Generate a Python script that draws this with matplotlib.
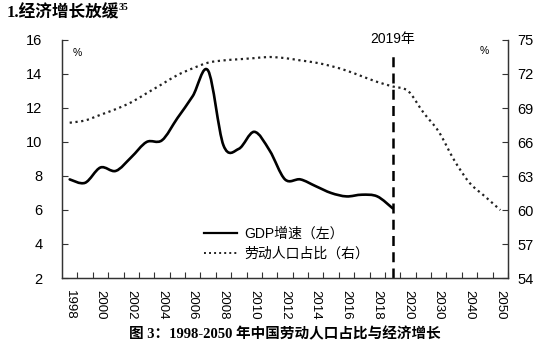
import matplotlib
matplotlib.use("Agg")
import matplotlib.pyplot as plt
import numpy as np
from matplotlib.path import Path
from matplotlib.patches import PathPatch
from matplotlib.lines import Line2D

plt.rcParams['font.family'] = ['Liberation Sans', 'Noto Sans CJK SC', 'DejaVu Sans']

# ---- data ----
years = [str(y) for y in range(1998, 2020)] + ['2020', '2025', '2030', '2035', '2040', '2045', '2050']
tick_labels = ['1998', '2000', '2002', '2004', '2006', '2008', '2010', '2012', '2014', '2016',
               '2018', '2020', '2030', '2040', '2050']
gdp_growth = [7.8, 7.6, 8.5, 8.3, 9.1, 10.0, 10.1, 11.4, 12.7, 14.2, 9.8, 9.6, 10.6, 9.5,
              7.8, 7.8, 7.4, 7.0, 6.8, 6.9, 6.8, 6.1]
labor_share = [67.7, 67.9, 68.4, 68.9, 69.5, 70.3, 71.1, 71.9, 72.5, 73.0, 73.2, 73.3, 73.4,
               73.5, 73.4, 73.2, 73.0, 72.7, 72.3, 71.8, 71.3, 70.9, 70.5, 68.6, 66.9, 64.4,
               62.4, 61.2, 60.0]
gdp_label = 'GDP增速（左）'
labor_label = '劳动人口占比（右）'
marker_year = '2019'

def smooth_path(xs, ys):
    pts = np.column_stack([xs, ys]).astype(float)
    n = len(pts)
    verts = [pts[0]]
    codes = [Path.MOVETO]
    for i in range(n - 1):
        p0 = pts[i - 1] if i > 0 else pts[i]
        p1 = pts[i]
        p2 = pts[i + 1]
        p3 = pts[i + 2] if i + 2 < n else pts[i + 1]
        c1 = p1 + (p2 - p0) / 6.0
        c2 = p2 - (p3 - p1) / 6.0
        verts += [c1, c2, p2]
        codes += [Path.CURVE4] * 3
    return Path(verts, codes)

fig = plt.figure(figsize=(5.5, 3.47), dpi=100)
ax = fig.add_axes([62 / 550, 1 - 278 / 347, 446 / 550, 238 / 347])
ax2 = ax.twinx()

x_idx = np.arange(len(years))
x_gdp = x_idx[:len(gdp_growth)]

p1 = PathPatch(smooth_path(x_gdp, gdp_growth), facecolor='none', edgecolor='black',
               lw=1.9, transform=ax.transData, capstyle='round', joinstyle='round')
ax.add_patch(p1)
ax.plot(x_gdp, gdp_growth, lw=0, alpha=0)

p2 = PathPatch(smooth_path(x_idx, labor_share), facecolor='none', edgecolor='#222222',
               lw=1.6, linestyle=(0, (1, 1.6)), transform=ax2.transData)
ax2.add_patch(p2)
ax2.plot(x_idx, labor_share, lw=0, alpha=0)

ax.set_xlim(-0.5, len(years) - 0.5)
ax.set_ylim(2, 16)
ax2.set_ylim(54, 75)
ax.set_yticks(np.arange(2, 17, 2))
ax2.set_yticks(np.arange(54, 76, 3))

label_pos = [years.index(t) for t in tick_labels]
ax.set_xticks(label_pos)
ax.set_xticklabels(tick_labels, rotation=270, fontsize=9.5)
ax.set_xticks(np.arange(0.5, len(years), 1.0), minor=True)
ax.tick_params(axis='x', which='major', length=0, pad=9)
ax.tick_params(axis='x', which='minor', direction='in', length=4, width=0.8, color='#333333')
ax.tick_params(axis='y', direction='in', length=4, width=0.8, pad=14, labelsize=10.5, color='#333333')
ax2.tick_params(axis='y', direction='in', length=4, width=0.8, pad=7, labelsize=10.5, color='#333333')

for a in (ax, ax2):
    a.spines['top'].set_visible(False)
    for s in ('left', 'right', 'bottom'):
        a.spines[s].set_color('#333333')
        a.spines[s].set_linewidth(0.9)

mx = years.index(marker_year)
ax.axvline(mx, ymin=0, ymax=0.935, color='black', lw=1.8, linestyle=(0, (4, 2.5)))
ax.text(mx, 1.005, marker_year + '年', transform=ax.get_xaxis_transform(), ha='center',
        va='center', fontsize=10, family=['Liberation Sans', 'Noto Sans CJK SC'])

ax.text(0.035, 0.945, '%', transform=ax.transAxes, fontsize=7.5, ha='center', va='center')
ax.text(0.947, 0.955, '%', transform=ax.transAxes, fontsize=7.5, ha='center', va='center')

handles = [Line2D([], [], color='black', lw=1.6),
           Line2D([], [], color='#222222', lw=1.4, linestyle=(0, (1, 1.6)))]
ax.legend(handles, [gdp_label, labor_label], loc='lower left', bbox_to_anchor=(0.29, 0.02),
          frameon=False, handlelength=2.4, handletextpad=0.5, labelspacing=0.45,
          prop={'family': ['Liberation Sans', 'Noto Sans CJK SC'], 'size': 10})

serif_cjk = ['Liberation Serif', 'Noto Sans CJK SC']
t = fig.text(7 / 550, 1 - 13 / 347, '1.经济增长放缓', fontsize=12, fontweight='bold',
             ha='left', va='center', family=serif_cjk)
fig.canvas.draw()
bb = t.get_window_extent()
fig.text(bb.x1 / 550 - 0.001, 1 - 8 / 347, '35', fontsize=7, fontweight='bold',
         ha='left', va='center', family=serif_cjk)
fig.text(285 / 550, 1 - 334 / 347, '图 3：1998-2050 年中国劳动人口占比与经济增长', fontsize=10.5,
         fontweight='bold', ha='center', va='center', family=serif_cjk)

fig.savefig('out.png', dpi=100)
